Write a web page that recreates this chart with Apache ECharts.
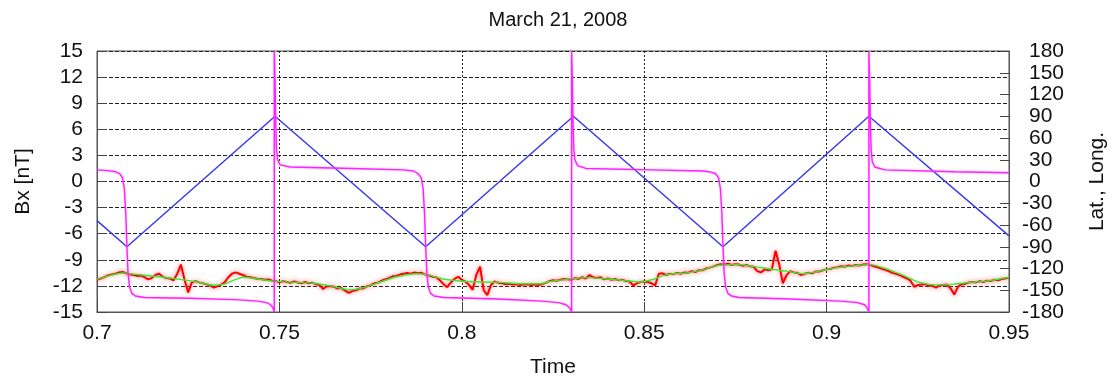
<!DOCTYPE html>
<html lang="en">
<head>
    <meta charset="UTF-8">
    <title>March 21, 2008</title>
    <script src="https://cdn.jsdelivr.net/npm/echarts/dist/echarts.min.js"></script>
    <style>
        html, body { margin: 0; padding: 0; background: #fff; }
    </style>
</head>
<body>
    <div id="main" style="width: 1114px;height:376px;"></div>
    <script type="text/javascript">
        // 纬度 (蓝线, 右轴) [time, deg]
        var latPoints = [[0.700, -54], [0.7082, -90], [0.7488, 90], [0.7901, -90], [0.8306, 90],
            [0.8716, -90], [0.9116, 90], [0.950, -75]];

        // 经度 (品红线, 右轴) [time, deg]
        var lonPoints = [[0.700, 16], [0.703, 15], [0.705, 13.5], [0.7062, 11], [0.7070, 5], [0.7075, -10],
            [0.7079, -45], [0.7082, -90], [0.7085, -125], [0.7089, -145], [0.7095, -154], [0.7105, -158],
            [0.713, -160], [0.725, -161], [0.738, -163], [0.744, -165], [0.7465, -167], [0.7476, -170],
            [0.7482, -174], [0.7486, -180], [0.7486, 180], [0.7488, 140], [0.7490, 80], [0.7492, 45],
            [0.7495, 30], [0.7502, 23], [0.753, 20], [0.770, 18], [0.784, 16], [0.7868, 14.5], [0.788, 11],
            [0.7889, 5], [0.7894, -10], [0.7898, -45], [0.7901, -90], [0.7904, -125], [0.7908, -145],
            [0.7914, -154], [0.7924, -158], [0.795, -160], [0.810, -162], [0.822, -165], [0.8265, -167],
            [0.8286, -170], [0.8295, -174], [0.8301, -180], [0.8301, 180], [0.8303, 140], [0.8305, 80],
            [0.8307, 45], [0.8310, 30], [0.8317, 22], [0.834, 18], [0.852, 16], [0.866, 14.5], [0.8683, 13],
            [0.8695, 11], [0.8704, 5], [0.8709, -10], [0.8713, -45], [0.8716, -90], [0.8719, -125],
            [0.8723, -145], [0.8729, -154], [0.8739, -158], [0.876, -160], [0.890, -162], [0.904, -165],
            [0.9085, -167], [0.9104, -170], [0.9111, -174], [0.9116, -180], [0.9116, 180], [0.9118, 140],
            [0.9120, 80], [0.9122, 45], [0.9125, 28], [0.9132, 20], [0.916, 16], [0.935, 13.5], [0.950, 12]];

        // Bx 平滑值 (绿线, 左轴) [time, nT]
        var bxSmooth = [[0.700, -11.25], [0.7027, -10.9], [0.7055, -10.6], [0.7073, -10.5], [0.7091, -10.6],
            [0.7137, -10.8], [0.7183, -11.0], [0.7228, -11.25], [0.7274, -11.55], [0.7320, -11.9],
            [0.7347, -11.8], [0.7384, -11.2], [0.7402, -11.0], [0.7439, -11.2], [0.7484, -11.45],
            [0.7548, -11.6], [0.7594, -11.7], [0.7640, -12.0], [0.7694, -12.45], [0.7731, -12.2],
            [0.7777, -11.55], [0.7822, -10.95], [0.7876, -10.6], [0.7904, -10.7], [0.7949, -11.2],
            [0.7986, -11.4], [0.8013, -11.5], [0.8105, -11.6], [0.8160, -11.75], [0.8214, -11.75],
            [0.8242, -11.5], [0.8288, -11.25], [0.8342, -11.05], [0.8397, -11.2], [0.8452, -11.4],
            [0.8489, -11.55], [0.8525, -11.25], [0.8562, -10.7], [0.8617, -10.5], [0.8667, -10.1],
            [0.8689, -9.75], [0.8716, -9.6], [0.8753, -9.56], [0.8798, -9.75], [0.8844, -10.05],
            [0.8890, -10.3], [0.8935, -10.6], [0.8981, -10.3], [0.9027, -9.9], [0.9073, -9.7],
            [0.9118, -9.56], [0.9164, -10.05], [0.9210, -10.8], [0.9255, -11.6], [0.9301, -11.9],
            [0.9347, -11.8], [0.9393, -11.6], [0.9438, -11.45], [0.9500, -11.0]];

        // Bx 原始值 (红线, 左轴), 从 0.700 开始每 0.001 一个点
        var bxRawStart = 0.7;
        var bxRawStep = 0.001;
        var bxRaw = [
            -11.3, -11.15, -11.0, -10.8, -10.7, -10.6, -10.45, -10.4, -10.55, -10.7,
            -10.75, -10.85, -10.8, -11.0, -11.25, -11.1, -10.75, -10.6, -10.95, -11.1,
            -11.15, -11.35, -10.6, -9.55, -11.3, -12.75, -11.6, -11.45, -11.6, -11.7,
            -11.8, -11.95, -12.2, -12.05, -11.85, -11.6, -11.0, -10.6, -10.45, -10.6,
            -10.75, -10.95, -11.0, -11.1, -11.2, -11.2, -11.3, -11.25, -11.4, -11.45,
            -11.6, -11.45, -11.55, -11.65, -11.5, -11.6, -11.7, -11.55, -11.7, -11.65,
            -11.8, -11.9, -12.35, -12.0, -12.05, -12.1, -12.3, -12.25, -12.55, -12.8,
            -12.6, -12.5, -12.3, -12.3, -12.05, -11.95, -11.7, -11.65, -11.4, -11.25,
            -11.1, -10.9, -10.85, -10.7, -10.6, -10.5, -10.6, -10.45, -10.55, -10.5,
            -10.7, -10.8, -10.95, -11.0, -11.35, -11.8, -12.15, -11.6, -11.2, -10.95,
            -11.3, -11.5, -11.9, -12.45, -10.7, -9.8, -12.5, -13.05, -11.9, -11.5,
            -11.65, -11.7, -11.8, -11.75, -11.85, -11.8, -11.9, -11.85, -11.8, -11.9,
            -11.85, -11.9, -11.8, -11.65, -11.45, -11.35, -11.4, -11.3, -11.2, -11.25,
            -11.3, -11.1, -11.2, -11.0, -11.15, -10.75, -11.0, -11.1, -11.0, -11.25,
            -11.15, -11.3, -11.2, -11.35, -11.3, -11.45, -11.5, -11.95, -11.7, -11.55,
            -11.5, -11.55, -11.7, -11.95, -10.6, -10.55, -10.75, -10.6, -10.65, -10.5,
            -10.6, -10.45, -10.5, -10.3, -10.4, -10.2, -10.2, -10.0, -9.9, -9.75,
            -9.6, -9.5, -9.55, -9.45, -9.6, -9.5, -9.55, -9.7, -9.6, -9.75,
            -9.8, -10.3, -10.45, -10.1, -10.2, -10.1, -7.95, -9.5, -11.7, -10.8,
            -10.3, -10.45, -10.5, -10.75, -10.6, -10.5, -10.55, -10.35, -10.35, -10.2,
            -10.1, -10.05, -9.9, -9.85, -9.75, -9.8, -9.65, -9.7, -9.6, -9.65,
            -9.55, -9.5, -9.6, -9.75, -9.85, -10.0, -10.15, -10.3, -10.5, -10.6,
            -10.75, -10.95, -11.15, -11.4, -12.1, -11.9, -11.85, -11.8, -11.95, -12.0,
            -12.2, -11.95, -11.9, -11.85, -12.3, -13.0, -12.1, -11.8, -11.75, -11.6,
            -11.55, -11.6, -11.45, -11.55, -11.4, -11.45, -11.3, -11.35, -11.2, -11.15, -11.05
        ];

        var bxRawPoints = bxRaw.map(function (v, i) {
            return [+(bxRawStart + i * bxRawStep).toFixed(4), v];
        });

        var fontName = 'Liberation Sans';
        var labelSize = 21;
        var myChart = echarts.init(document.getElementById('main'));

        var option = {
            animation: false,
            backgroundColor: '#fff',
            textStyle: {fontFamily: fontName},
            title: {
                text: 'March 21, 2008',
                left: 553,
                textAlign: 'center',
                top: 5,
                textStyle: {fontSize: 20, fontWeight: 'normal', color: '#111', fontFamily: fontName}
            },
            grid: {
                left: 97, right: 105, top: 51, bottom: 64,
                outerBoundsMode: 'none', // 固定绘图区, 不随标签自动收缩
                show: true, borderColor: '#555', borderWidth: 1
            },
            xAxis: {
                type: 'value',
                min: 0.7, max: 0.95, interval: 0.05,
                name: 'Time',
                nameLocation: 'middle',
                nameGap: 45,
                nameTextStyle: {fontSize: labelSize, color: '#111'},
                axisLine: {onZero: false, lineStyle: {color: '#555'}},
                axisTick: {inside: true, length: 10, lineStyle: {color: '#444'}},
                axisLabel: {fontSize: labelSize, color: '#111', margin: 11},
                splitLine: {show: true, lineStyle: {color: '#222', type: [2, 2], width: 1}}
            },
            yAxis: [{
                type: 'value',
                min: -15, max: 15, interval: 3,
                name: 'Bx [nT]',
                nameLocation: 'middle',
                nameGap: 63,
                nameRotate: 90,
                nameTextStyle: {fontSize: labelSize, color: '#111'},
                axisLine: {show: true, onZero: false, lineStyle: {color: '#555'}},
                axisTick: {inside: true, length: 10, lineStyle: {color: '#444'}},
                axisLabel: {fontSize: labelSize, color: '#111', margin: 14},
                splitLine: {show: true, lineStyle: {color: '#222', type: [4, 2], width: 1}}
            }, {
                // 右轴: 正数标签 (负号悬在左边, 所以负数另用一根轴显示)
                type: 'value',
                min: -180, max: 180, interval: 30,
                name: 'Lat., Long.',
                nameLocation: 'middle',
                nameGap: 78,
                nameRotate: 90,
                nameTextStyle: {fontSize: labelSize, color: '#111'},
                position: 'right',
                axisLine: {show: true, onZero: false, lineStyle: {color: '#555'}},
                axisTick: {inside: true, length: 9, lineStyle: {color: '#444'}},
                axisLabel: {
                    fontSize: labelSize, color: '#111', margin: 20, align: 'left',
                    formatter: function (v) { return v >= 0 ? String(v) : ''; }
                },
                splitLine: {show: false}
            }, {
                // 右轴: 负数标签
                type: 'value',
                min: -180, max: 180, interval: 30,
                position: 'right',
                axisLine: {show: false},
                axisTick: {show: false},
                axisLabel: {
                    fontSize: labelSize, color: '#111', margin: 13, align: 'left',
                    formatter: function (v) { return v < 0 ? String(v) : ''; }
                },
                splitLine: {show: false}
            }],
            series: [{
                name: 'Bx raw',
                type: 'line',
                yAxisIndex: 0,
                data: bxRawPoints,
                symbol: 'none',
                z: 2,
                lineStyle: {color: '#ff0000', width: 2, shadowColor: 'rgba(255,60,60,0.7)', shadowBlur: 4}
            }, {
                name: 'Bx smooth',
                type: 'line',
                yAxisIndex: 0,
                data: bxSmooth,
                symbol: 'none',
                smooth: 0.3,
                z: 3,
                lineStyle: {color: '#33ee33', width: 1.4}
            }, {
                name: 'Lat',
                type: 'line',
                yAxisIndex: 1,
                data: latPoints,
                symbol: 'none',
                z: 4,
                lineStyle: {color: '#3a3af0', width: 1.5}
            }, {
                name: 'Long',
                type: 'line',
                yAxisIndex: 1,
                data: lonPoints,
                symbol: 'none',
                z: 5,
                lineStyle: {color: '#ff22ff', width: 1.4, shadowColor: 'rgba(255,120,255,0.7)', shadowBlur: 2}
            }]
        };

        myChart.setOption(option);
    </script>
</body>
</html>
